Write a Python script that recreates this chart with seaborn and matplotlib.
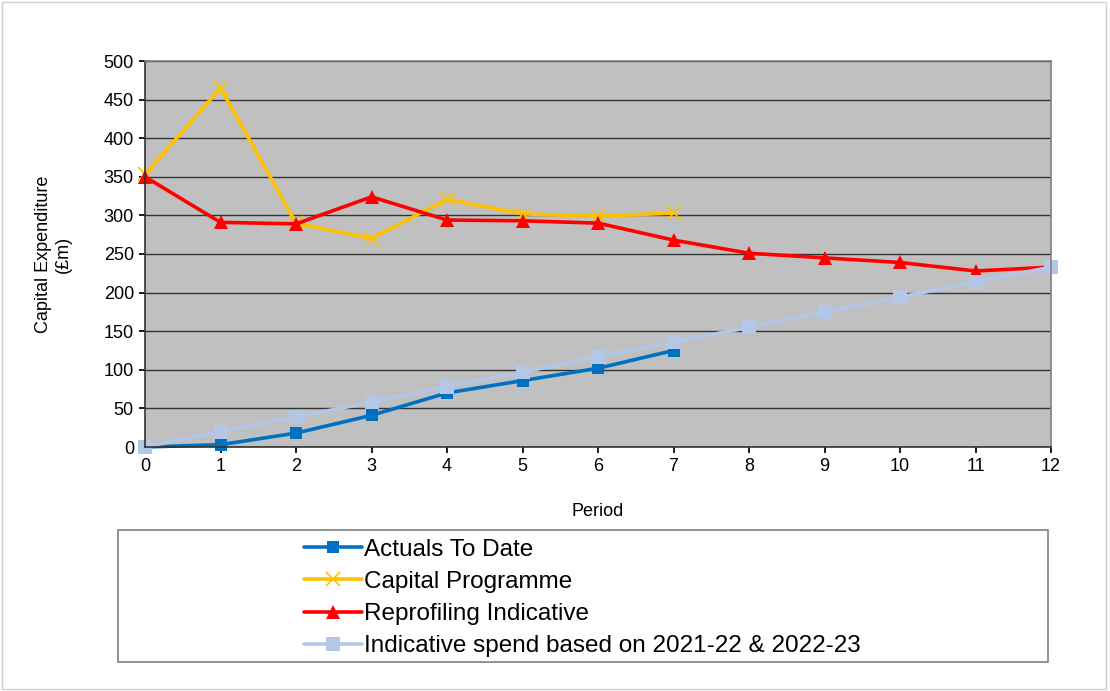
import matplotlib
matplotlib.use("Agg")
import matplotlib.pyplot as plt
from matplotlib.patches import Rectangle
import seaborn as sns
import pandas as pd

periods = list(range(13))
actuals = [0, 3, 18, 41, 70, 86, 102, 125]
capital_programme = [353, 465, 290, 270, 321, 302, 299, 303]
reprofiling = [350, 291, 289, 324, 294, 293, 290, 268, 251, 245, 239, 228, 233]
indicative = [0, 20, 39, 58, 78, 97, 117, 136, 155, 175, 194, 214, 233]

labels = ["Actuals To Date", "Capital Programme", "Reprofiling Indicative",
          "Indicative spend based on 2021-22 & 2022-23"]

sns.set_theme(style="white")
plt.rcParams['font.family'] = ['Liberation Sans', 'DejaVu Sans']
plt.rcParams['text.color'] = 'black'
plt.rcParams['axes.labelcolor'] = 'black'

fig = plt.figure(figsize=(11.1, 6.91), dpi=100)
ax = fig.add_axes([145/1110, 1-447/691, 906/1110, 386/691])
ax.set_facecolor("#C0C0C0")

series = [
    (actuals, labels[0], "#0070C0", "s", 9),
    (capital_programme, labels[1], "#FFC000", "x", 10),
    (reprofiling, labels[2], "#FF0000", "^", 10),
    (indicative, labels[3], "#B4C7E7", "s", 10),
]
for vals, lab, col, mk, ms in series:
    df = pd.DataFrame({"Period": periods[:len(vals)], "Value": vals})
    sns.lineplot(data=df, x="Period", y="Value", ax=ax, color=col, marker=mk,
                 markersize=ms, linewidth=2.6, label=lab,
                 markeredgecolor=col, markeredgewidth=1.2 if mk == "x" else 0)

ax.set_xlim(0, 12)
ax.set_ylim(0, 500)
ax.set_xticks(range(0, 13))
ax.set_yticks(range(0, 501, 50))
ax.grid(axis="y", color="#333333", linewidth=1)
ax.set_axisbelow(True)
ax.tick_params(axis="both", labelsize=13, colors="black", length=4, direction="out",
               left=True, bottom=True, pad=4)
ax.set_xlabel("Period", fontsize=13, labelpad=20)
ax.set_ylabel("Capital Expenditure\n(£m)", fontsize=13, labelpad=23)
for s in ["left", "bottom"]:
    ax.spines[s].set_color("#333333")
    ax.spines[s].set_linewidth(1.2)
for s in ["top", "right"]:
    ax.spines[s].set_color("#808080")
    ax.spines[s].set_linewidth(1.2)
for l in ax.lines:
    l.set_clip_on(False)

handles, labs = ax.get_legend_handles_labels()
ax.get_legend().remove()
fig.patches.append(Rectangle((118/1110, 1-662/691), 930/1110, 132/691,
                             transform=fig.transFigure, facecolor="white",
                             edgecolor="#808080", linewidth=1.2))
fig.patches.append(Rectangle((2/1110, 2/691), 1104/1110, 687/691,
                             transform=fig.transFigure, facecolor="none",
                             edgecolor="#D0D0D0", linewidth=1))
fig.legend(handles, labs, loc="upper left", bbox_to_anchor=(294/1110, 1-529/691),
           frameon=False, fontsize=17.5, handlelength=2.4, handletextpad=0.08,
           labelspacing=0.42, borderaxespad=0)

fig.savefig("out.png", dpi=100)
